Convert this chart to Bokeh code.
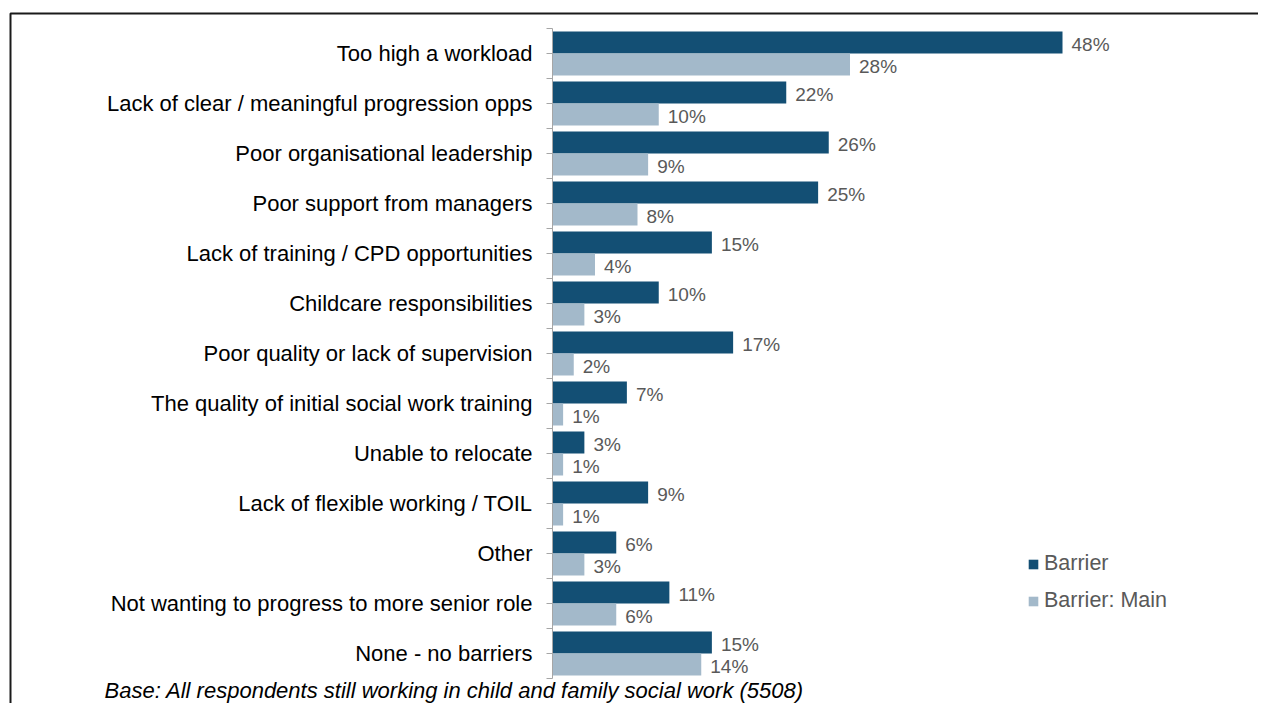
from bokeh.plotting import figure
from bokeh.models import (LinearAxis, FixedTicker, Range1d, BoxAnnotation, Label,
                          Legend, LegendItem, ColumnDataSource)
from bokeh.embed import file_html
from bokeh.resources import INLINE
from bokeh.core.properties import value

categories = [
    "Too high a workload",
    "Lack of clear / meaningful progression opps",
    "Poor organisational leadership",
    "Poor support from managers",
    "Lack of training / CPD opportunities",
    "Childcare responsibilities",
    "Poor quality or lack of supervision",
    "The quality of initial social work training",
    "Unable to relocate",
    "Lack of flexible working / TOIL",
    "Other",
    "Not wanting to progress to more senior role",
    "None - no barriers",
]
barrier = [48, 22, 26, 25, 15, 10, 17, 7, 3, 9, 6, 11, 15]
barrier_main = [28, 10, 9, 8, 4, 3, 2, 1, 1, 1, 3, 6, 14]
series_names = ["Barrier", "Barrier: Main"]
footnote = "Base: All respondents still working in child and family social work (5508)"

DARK = "#134F74"
LIGHT = "#A3B9CA"
GRAY_TXT = "#595959"
FONT = "Liberation Sans"

W, H = 1258, 703
n = len(categories)
centers = [i + 0.5 for i in range(n)]
bar_h = 0.44

# layout: axis at canvas x=552, 10.625 px per percent; 50 px per category, first band at canvas y=28
AX_X = 552
BAND_TOP = 28
px_x = 10.625
px_y = 50.0
x0 = -AX_X / px_x
x1 = (W - AX_X) / px_x
y_top = -BAND_TOP / px_y
y_bot = (H - BAND_TOP) / px_y

p = figure(width=W, height=H, output_backend="svg", toolbar_location=None,
           x_range=Range1d(x0, x1), y_range=Range1d(y_bot, y_top),
           x_axis_location=None, y_axis_location=None,
           min_border=0, min_border_left=0, min_border_right=0,
           min_border_top=0, min_border_bottom=0)
p.xgrid.visible = False
p.ygrid.visible = False
p.outline_line_color = None
p.background_fill_color = "white"
p.border_fill_color = "white"

src = ColumnDataSource(dict(
    cat=categories,
    barrier=barrier,
    main=barrier_main,
    y_b=[c - bar_h / 2 for c in centers],
    y_m=[c + bar_h / 2 for c in centers],
    lab_b=[f"{v}%" for v in barrier],
    lab_m=[f"{v}%" for v in barrier_main],
))

r_b = p.hbar(y="y_b", left=0, right="barrier", height=bar_h, source=src,
             fill_color=DARK, line_color=None)
r_m = p.hbar(y="y_m", left=0, right="main", height=bar_h, source=src,
             fill_color=LIGHT, line_color=None)

p.text(x="barrier", y="y_b", text="lab_b", source=src, x_offset=9, y_offset=2,
       text_baseline="middle", text_align="left", text_color=GRAY_TXT,
       text_font=value(FONT), text_font_size="19px")
p.text(x="main", y="y_m", text="lab_m", source=src, x_offset=9, y_offset=2,
       text_baseline="middle", text_align="left", text_color=GRAY_TXT,
       text_font=value(FONT), text_font_size="19px")

yaxis = LinearAxis(
    fixed_location=0,
    ticker=FixedTicker(ticks=centers, minor_ticks=list(range(n + 1))),
    major_label_overrides={c: lab for c, lab in zip(centers, categories)},
    bounds=(0, n),
    major_tick_out=6, major_tick_in=0,
    minor_tick_out=6, minor_tick_in=0,
    axis_line_color="#A6A6A6", major_tick_line_color="#A6A6A6",
    minor_tick_line_color="#A6A6A6",
    major_label_text_font=FONT, major_label_text_font_size="22px",
    major_label_text_color="black", major_label_standoff=14,
)
p.add_layout(yaxis, "left")

# chart border: top and left edges visible, right/bottom edges pushed outside the frame
p.add_layout(BoxAnnotation(left=(10 - AX_X) / px_x, top=(13 - BAND_TOP) / px_y,
                           right=x1 + 5, bottom=y_bot + 1,
                           fill_alpha=0, fill_color=None,
                           line_color="#1a1a1a", line_width=2, line_alpha=1))

legend = Legend(
    items=[LegendItem(label=series_names[0], renderers=[r_b]),
           LegendItem(label=series_names[1], renderers=[r_m])],
    location=(1027, 90),
    glyph_width=12, glyph_height=12, label_standoff=5,
    label_text_font=FONT, label_text_font_size="21.5px",
    label_text_color=GRAY_TXT, border_line_color=None,
    background_fill_alpha=0, padding=0, spacing=12, margin=0,
)
p.add_layout(legend)

p.add_layout(Label(x=(104 - AX_X) / px_x, y=(690 - BAND_TOP) / px_y, text=footnote,
                   text_font=FONT, text_font_style="italic",
                   text_font_size="22px", text_color="black",
                   text_baseline="alphabetic"))

open("out.html", "w").write(file_html(p, INLINE))
